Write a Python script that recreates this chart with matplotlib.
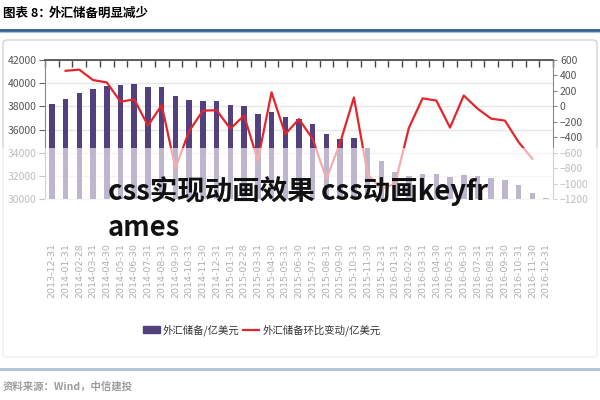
import numpy as np
import matplotlib
matplotlib.use('Agg')
import matplotlib.pyplot as plt
import matplotlib.transforms as mtransforms
from matplotlib.patches import Rectangle, FancyBboxPatch
from matplotlib.lines import Line2D

plt.rcParams['font.family'] = ['Noto Sans CJK SC', 'DejaVu Sans']

# datos
dates = ['2013-12-31', '2014-01-31', '2014-02-28', '2014-03-31', '2014-04-30', '2014-05-31',
         '2014-06-30', '2014-07-31', '2014-08-31', '2014-09-30', '2014-10-31', '2014-11-30',
         '2014-12-31', '2015-01-31', '2015-02-28', '2015-03-31', '2015-04-30', '2015-05-31',
         '2015-06-30', '2015-07-31', '2015-08-31', '2015-09-30', '2015-10-31', '2015-11-30',
         '2015-12-31', '2016-01-31', '2016-02-29', '2016-03-31', '2016-04-30', '2016-05-31',
         '2016-06-30', '2016-07-31', '2016-08-31', '2016-09-30', '2016-10-31', '2016-11-30',
         '2016-12-31']
reserves = [38213, 38666, 39137, 39481, 39788, 39838, 39932, 39662, 39688, 38877, 38529, 38473,
            38430, 38134, 38015, 37300, 37481, 37111, 36938, 36513, 35574, 35141, 35255, 34383,
            33304, 32309, 32023, 32126, 32197, 31917, 32052, 32011, 31852, 31664, 31206, 30516,
            30105]
change = [np.nan, 460, 475, 340, 310, 60, 90, -250, 15, -800, -320, -56, -50, -290, -119, -700,
          181, -360, -165, -425, -939, -470, 115, -880, -1070, -1000, -280, 103, 75, -275, 140,
          -30, -160, -185, -465, -680, np.nan]

title_num = '图表 8：'
title_text = '外汇储备明显减少'
bar_label = '外汇储备/亿美元'
line_label = '外汇储备环比变动/亿美元'
source_text = '资料来源：Wind，中信建投'
overlay_line1 = 'css实现动画效果 css动画keyfr'
overlay_line2 = 'ames'

bar_color = '#53407E'
line_color = '#E3262B'
blue = '#2E5E8C'
grey_txt = '#555555'

fig = plt.figure(figsize=(6, 4), dpi=100)
W, H = 600.0, 400.0

def fx(px):
    return px / W

def fy(py):
    return 1 - py / H

# marco del grafico
frame = FancyBboxPatch((fx(3), fy(357)), fx(594), fy(40) - fy(357),
                       boxstyle='round,pad=0,rounding_size=0.008',
                       transform=fig.transFigure, facecolor='white',
                       edgecolor='#D4D4D4', linewidth=1.0, zorder=-1)
fig.patches.append(frame)

# titulo y lineas azules
fig.text(fx(3), fy(13), title_num, fontsize=9, fontweight='bold', va='center', ha='left')
fig.text(fx(49), fy(13), title_text, fontsize=9, fontweight='bold', va='center', ha='left')
fig.add_artist(Line2D([0, 1], [fy(30), fy(30)], color=blue, lw=2.0, transform=fig.transFigure))
fig.add_artist(Line2D([0, 1], [fy(32), fy(32)], color='#A9BFD6', lw=0.8, transform=fig.transFigure))
fig.add_artist(Line2D([0, 1], [fy(369), fy(369)], color=blue, lw=2.0, transform=fig.transFigure))
fig.text(fx(3), fy(387), source_text, fontsize=7.5, style='italic', fontweight='bold',
         va='center', ha='left', color='#000000')

ax = fig.add_axes([fx(45), fy(199), fx(553) - fx(45), fy(60) - fy(199)])
ax.set_zorder(1)
x = np.arange(len(dates))
ax.bar(x, np.array(reserves) - 30000, bottom=30000, width=0.4, color=bar_color, zorder=2)
ax.set_xlim(-0.5, len(dates) - 0.5)
ax.set_ylim(30000, 42000)
ax.set_yticks(np.arange(30000, 42001, 2000))
ax.grid(axis='y', color='#E6E6E6', linewidth=1.0, zorder=0)
ax.tick_params(axis='y', direction='out', length=4, color='#666666', labelsize=7.5,
               labelcolor=grey_txt, pad=2)
ax.set_xticks(np.arange(-0.5, len(dates), 1.0))
ax.tick_params(axis='x', top=True, bottom=False, labeltop=False, labelbottom=False,
               direction='in', length=5, color='#444444', width=1.0)
for s in ['left', 'right']:
    ax.spines[s].set_color('#888888')
ax.spines['top'].set_color('#444444')
ax.spines['top'].set_linewidth(1.2)
ax.spines['bottom'].set_color('#E6E6E6')

ax2 = ax.twinx()
ax2.plot(x, change, color=line_color, lw=1.6, zorder=3)
ax2.set_ylim(-1200, 600)
ax2.set_yticks(np.arange(-1200, 601, 200))
ax2.tick_params(axis='y', direction='out', length=3, color='#888888', labelsize=7.5,
                labelcolor=grey_txt, pad=2)
for s in ['left', 'right', 'top', 'bottom']:
    ax2.spines[s].set_visible(False)

# etiquetas de fecha
trans = mtransforms.blended_transform_factory(ax.transData, fig.transFigure)
for i, d in enumerate(dates):
    ax.text(i, fy(243), d, rotation=90, ha='center', va='top', fontsize=6.8,
            color='#333333', transform=trans, family='DejaVu Sans', clip_on=False)

# leyenda
handles = [Rectangle((0, 0), 1, 1, color=bar_color), Line2D([0], [0], color=line_color, lw=1.6)]
fig.legend(handles, [bar_label, line_label], loc='center', bbox_to_anchor=(fx(262), fy(330)),
           ncol=2, frameon=False, fontsize=7.5, handlelength=1.6, handletextpad=0.3,
           columnspacing=0.3, labelcolor='#333333')

# capa blanca semitransparente
fig.patches.append(Rectangle((0, 0), 1, fy(148), transform=fig.transFigure,
                             facecolor='white', alpha=0.62, edgecolor='none', zorder=5))

fig.text(fx(108), fy(191), overlay_line1, fontsize=19.8, fontweight='bold', color='#111111',
         va='center', ha='left', zorder=6)
fig.text(fx(108), fy(228), overlay_line2, fontsize=19.8, fontweight='bold', color='#111111',
         va='center', ha='left', zorder=6)

fig.savefig('out.png', dpi=100)
